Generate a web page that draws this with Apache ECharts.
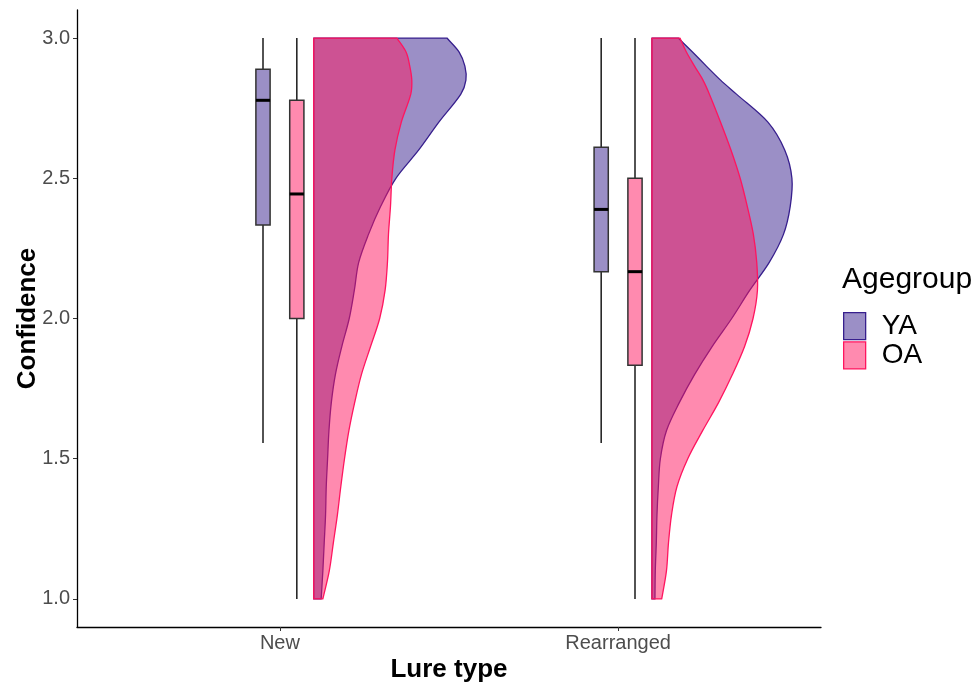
<!DOCTYPE html>
<html><head><meta charset="utf-8">
<script src="https://cdn.jsdelivr.net/npm/echarts@6/dist/echarts.min.js"></script>
<style>html,body{margin:0;padding:0;background:#fff}#c{width:975px;height:683px}</style>
</head><body><div id="c"></div>
<script>
// ---------- data ----------
const categories = ['New', 'Rearranged'];
const groups = ['YA', 'OA'];
const yTicks = [1.0, 1.5, 2.0, 2.5, 3.0];
// y values where violin half-width (density, in x-axis units) was read
const densityY = [1.0, 1.1, 1.2, 1.3, 1.4, 1.5, 1.6, 1.7, 1.8, 1.9, 2.0, 2.1, 2.2, 2.3, 2.4, 2.5, 2.6, 2.7, 2.8, 2.85, 2.9, 2.95, 3.0];
const densNewYA  = [0.022, 0.027, 0.031, 0.035, 0.037, 0.041, 0.045, 0.052, 0.064, 0.083, 0.105, 0.120, 0.133, 0.162, 0.198, 0.243, 0.310, 0.370, 0.435, 0.450, 0.447, 0.430, 0.394];
const densNewOA  = [0.027, 0.046, 0.058, 0.070, 0.080, 0.091, 0.104, 0.121, 0.141, 0.168, 0.195, 0.211, 0.218, 0.221, 0.227, 0.231, 0.240, 0.259, 0.287, 0.290, 0.284, 0.273, 0.246];
const densRearYA = [0.009, 0.010, 0.013, 0.015, 0.019, 0.025, 0.043, 0.081, 0.126, 0.178, 0.236, 0.289, 0.347, 0.389, 0.409, 0.414, 0.393, 0.343, 0.250, 0.203, 0.161, 0.120, 0.078];
const densRearOA = [0.029, 0.043, 0.049, 0.058, 0.074, 0.106, 0.150, 0.197, 0.238, 0.274, 0.299, 0.312, 0.310, 0.300, 0.282, 0.261, 0.234, 0.203, 0.170, 0.151, 0.126, 0.102, 0.083];
// box stats: [lower whisker, Q1, median, Q3, upper whisker]
const boxNewYA  = [1.556, 2.333, 2.778, 2.889, 3.0];
const boxNewOA  = [1.0, 2.0, 2.444, 2.778, 3.0];
const boxRearYA = [1.556, 2.167, 2.389, 2.611, 3.0];
const boxRearOA = [1.0, 1.833, 2.167, 2.5, 3.0];

// ---------- layout / style ----------
const COLORS = { YA: '#371f8d', OA: '#ff155f' };
const FILLS  = { YA: 'rgba(55,31,141,0.5)', OA: 'rgba(255,21,95,0.5)' };
const OFFSETS = { YA: -0.05, OA: 0.05 };
const VIOLIN_OFFSET = 0.1;
const BOX_HALF = 0.021;

function violinSeries(name, densArrays) {
  return {
    type: 'custom', name: name, coordinateSystem: 'cartesian2d', clip: false,
    itemStyle: { color: FILLS[name], borderColor: COLORS[name] },
    data: categories.map((c, i) => [i + 1, densityY[0]]),
    renderItem: function (params, api) {
      const dens = densArrays[params.dataIndex];
      const cx = api.value(0) + VIOLIN_OFFSET;
      const pts = densityY.map((y, k) => api.coord([cx + dens[k], y]));
      const n = pts.length;
      // tangents (non-uniform Catmull-Rom, parameterised by y)
      const tan = pts.map((p, k) => {
        const a = Math.max(0, k - 1), b = Math.min(n - 1, k + 1);
        const dt = densityY[b] - densityY[a];
        return [(pts[b][0] - pts[a][0]) / dt, (pts[b][1] - pts[a][1]) / dt];
      });
      const b0 = api.coord([cx, densityY[0]]);
      const b1 = api.coord([cx, densityY[n - 1]]);
      let d = 'M' + b0[0] + ',' + b0[1] + ' L' + pts[0][0] + ',' + pts[0][1];
      for (let k = 0; k < n - 1; k++) {
        const h = (densityY[k + 1] - densityY[k]) / 3;
        const p1 = pts[k], p2 = pts[k + 1];
        const c1 = [p1[0] + tan[k][0] * h, p1[1] + tan[k][1] * h];
        const c2 = [p2[0] - tan[k + 1][0] * h, p2[1] - tan[k + 1][1] * h];
        d += ' C' + c1[0] + ',' + c1[1] + ' ' + c2[0] + ',' + c2[1] + ' ' + p2[0] + ',' + p2[1];
      }
      d += ' L' + b1[0] + ',' + b1[1] + ' Z';
      return { type: 'path', shape: { pathData: d }, style: { fill: FILLS[name], stroke: COLORS[name], lineWidth: 1.3, lineJoin: 'round' } };
    }
  };
}

function boxSeries(name, boxes) {
  return {
    type: 'custom', name: name + ' box', coordinateSystem: 'cartesian2d', clip: false,
    data: boxes.map((b, i) => [i + 1].concat(b)),
    renderItem: function (params, api) {
      const x = api.value(0) + OFFSETS[name];
      const lo = api.coord([x, api.value(1)]);
      const q1 = api.coord([x, api.value(2)]);
      const q3 = api.coord([x, api.value(4)]);
      const hi = api.coord([x, api.value(5)]);
      const tl = api.coord([x - BOX_HALF, api.value(4)]);
      const br = api.coord([x + BOX_HALF, api.value(2)]);
      const ml = api.coord([x - BOX_HALF, api.value(3)]);
      const mr = api.coord([x + BOX_HALF, api.value(3)]);
      const ls = { stroke: '#1a1a1a', lineWidth: 1.5 };
      return { type: 'group', children: [
        { type: 'line', shape: { x1: lo[0], y1: lo[1], x2: q1[0], y2: q1[1] }, style: ls },
        { type: 'line', shape: { x1: q3[0], y1: q3[1], x2: hi[0], y2: hi[1] }, style: ls },
        { type: 'rect', shape: { x: tl[0], y: tl[1], width: br[0] - tl[0], height: br[1] - tl[1] },
          style: { fill: FILLS[name], stroke: '#333333', lineWidth: 1.5 } },
        { type: 'line', shape: { x1: ml[0], y1: ml[1], x2: mr[0], y2: mr[1] }, style: { stroke: '#000', lineWidth: 3 } }
      ] };
    }
  };
}

const chart = echarts.init(document.getElementById('c'));
chart.setOption({
  animation: false,
  backgroundColor: '#ffffff',
  textStyle: { fontFamily: 'Liberation Sans, Arial, sans-serif' },
  grid: { left: 77, right: 154, top: 10, bottom: 56, containLabel: false, outerBoundsMode: 'none' },
  title: [{ text: 'Agegroup', left: 842, top: 265, padding: 0,
    textStyle: { fontSize: 30, fontWeight: 'normal', color: '#000' } }],
  legend: {
    orient: 'vertical', left: 843, top: 312, padding: 0,
    itemWidth: 22, itemHeight: 27, itemGap: 1,
    textStyle: { fontSize: 28, color: '#000', padding: [0, 0, 0, 11] },
    data: groups.map(g => ({ name: g, icon: 'rect',
      itemStyle: { color: FILLS[g], borderColor: COLORS[g], borderWidth: 1.3 } }))
  },
  xAxis: {
    type: 'value', min: 0.4, max: 2.6,
    name: 'Lure type', nameLocation: 'middle', nameGap: 30, nameMoveOverlap: false,
    nameTextStyle: { fontSize: 26, fontWeight: 'bold', color: '#000' },
    axisLine: { show: true, lineStyle: { color: '#000', width: 1.3 } },
    axisTick: { show: true, length: 4, lineStyle: { color: '#333' }, customValues: [1, 2] },
    axisLabel: { show: true, fontSize: 20, color: '#4d4d4d', margin: 6, customValues: [1, 2],
      formatter: v => categories[Math.round(v) - 1] },
    splitLine: { show: false }
  },
  yAxis: {
    type: 'value', min: 0.9, max: 3.1,
    name: 'Confidence', nameLocation: 'middle', nameGap: 36, nameRotate: 90, nameMoveOverlap: false,
    nameTextStyle: { fontSize: 26, fontWeight: 'bold', color: '#000' },
    axisLine: { show: true, lineStyle: { color: '#000', width: 1.3 } },
    axisTick: { show: true, length: 4, lineStyle: { color: '#333' }, customValues: yTicks },
    axisLabel: { show: true, fontSize: 20, color: '#4d4d4d', margin: 7, customValues: yTicks,
      formatter: v => v.toFixed(1) },
    splitLine: { show: false }
  },
  series: [
    boxSeries('YA', [boxNewYA, boxRearYA]),
    boxSeries('OA', [boxNewOA, boxRearOA]),
    violinSeries('YA', [densNewYA, densRearYA]),
    violinSeries('OA', [densNewOA, densRearOA])
  ]
});
</script>
</body></html>
